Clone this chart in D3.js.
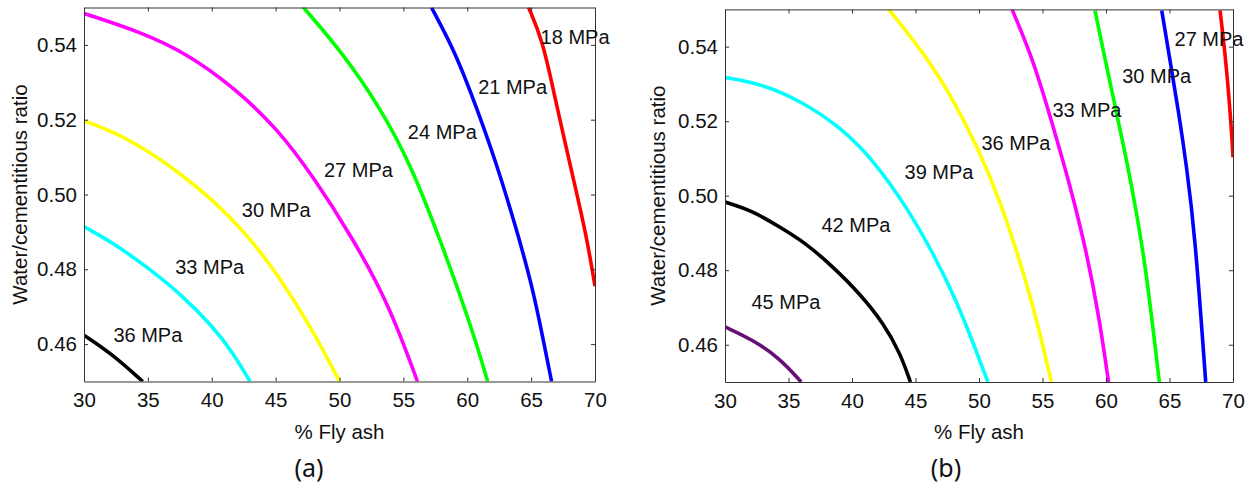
<!DOCTYPE html>
<html>
<head>
<meta charset="utf-8">
<script src="https://cdn.jsdelivr.net/npm/d3@7"></script>
<style>
  body { margin: 0; background: #fff; }
  svg text { font-family: "Liberation Sans", Arial, sans-serif; fill: #111; }
</style>
</head>
<body>
<svg id="chart" width="1254" height="486"></svg>
<script>
// axis values shared by both panels
const xTicks = [30, 35, 40, 45, 50, 55, 60, 65, 70];
const yTicks = [0.46, 0.48, 0.50, 0.52, 0.54];

// panel (a) contour lines, [% fly ash, w/c ratio]
const a36 = [[30, 0.4624], [32.3, 0.4571], [34.6, 0.45]];
const a33 = [[30, 0.4914], [32.3, 0.487], [34.9, 0.4807], [37.5, 0.4736], [40.1, 0.4647], [41.7, 0.4575], [43.0, 0.45]];
const a30 = [[30, 0.5197], [32.3, 0.5168], [34.9, 0.5119], [37.5, 0.5057], [40.1, 0.4985], [42.7, 0.4896], [45.3, 0.478], [47.9, 0.4638], [50.0, 0.45]];
const a27 = [[30, 0.5484], [34.4, 0.5435], [38.1, 0.5376], [41.7, 0.5287], [45.1, 0.5178], [48.0, 0.5045], [51.0, 0.4885], [53.9, 0.4705], [56.1, 0.45]];
const a24 = [[47.13, 0.5502], [50.26, 0.5378], [53.13, 0.5235], [55.6, 0.508], [58.2, 0.485], [60.4, 0.4638], [61.6, 0.45]];
const a21 = [[57.2, 0.55], [59.1, 0.5378], [60.7, 0.5235], [62.2, 0.5092], [63.8, 0.4914], [65.1, 0.4753], [65.9, 0.462], [66.6, 0.45]];
const a18 = [[64.8, 0.55], [65.9, 0.5413], [66.9, 0.5253], [68.2, 0.5057], [69.3, 0.4896], [70, 0.4755]];

// panel (b) contour lines
const b45 = [[30, 0.4648], [32.2, 0.4613], [34.3, 0.4564], [36.0, 0.45]];
const b42 = [[30, 0.4983], [32.2, 0.4959], [34.3, 0.4916], [36.4, 0.4872], [38.5, 0.4809], [40.6, 0.4738], [42.5, 0.4657], [43.8, 0.4577], [44.6, 0.45]];
const b39 = [[30, 0.5317], [32.8, 0.5301], [35.9, 0.5256], [39.1, 0.5184], [41.7, 0.5095], [44.3, 0.497], [46.4, 0.4845], [48.2, 0.472], [49.55, 0.4604], [50.7, 0.45]];
const b36 = [[42.9, 0.55], [45.9, 0.5372], [48.0, 0.5256], [50.0, 0.5122], [51.65, 0.4988], [53.2, 0.4827], [54.5, 0.4675], [55.7, 0.45]];
const b33 = [[52.6, 0.55], [54.3, 0.5363], [55.85, 0.5184], [57.2, 0.5024], [58.5, 0.4845], [59.5, 0.4666], [60.2, 0.45]];
const b30 = [[59.13, 0.5497], [60.06, 0.5345], [60.84, 0.522], [61.63, 0.5095], [62.42, 0.4952], [63.2, 0.4791], [64.2, 0.45]];
const b27 = [[64.39, 0.5497], [65.04, 0.5363], [65.7, 0.5229], [66.35, 0.5077], [67.0, 0.4899], [67.85, 0.45]];
const b24 = [[68.98, 0.5497], [69.5, 0.5345], [69.9, 0.5167], [70, 0.5103]];

// contour label anchors (data units)
const labelsA = [
    {text: "18 MPa", x: 68.44, y: 0.5422},
    {text: "21 MPa", x: 63.55, y: 0.5288},
    {text: "24 MPa", x: 58.05, y: 0.5168},
    {text: "27 MPa", x: 51.48, y: 0.5066},
    {text: "30 MPa", x: 45.05, y: 0.4959},
    {text: "33 MPa", x: 39.84, y: 0.4807},
    {text: "36 MPa", x: 35.0, y: 0.4624}
];
const labelsB = [
    {text: "27 MPa", x: 68.11, y: 0.5421},
    {text: "30 MPa", x: 63.99, y: 0.5323},
    {text: "33 MPa", x: 58.50, y: 0.5231},
    {text: "36 MPa", x: 52.91, y: 0.5142},
    {text: "39 MPa", x: 46.85, y: 0.5064},
    {text: "42 MPa", x: 40.31, y: 0.4921},
    {text: "45 MPa", x: 34.80, y: 0.4715}
];

const panels = [
    {
        id: "a", left: 84, right: 595, top: 7.5, bottom: 381.5,
        ylabelX: 20, tagX: 309,
        lines: [
            {pts: a36, color: "#000000"},
            {pts: a33, color: "#00ffff"},
            {pts: a30, color: "#ffff00"},
            {pts: a27, color: "#ff00ff"},
            {pts: a24, color: "#00ff00"},
            {pts: a21, color: "#0000ff"},
            {pts: a18, color: "#ff0000"}
        ],
        labels: labelsA
    },
    {
        id: "b", left: 725, right: 1233, top: 9.4, bottom: 382,
        ylabelX: 658, tagX: 946,
        lines: [
            {pts: b45, color: "#661077"},
            {pts: b42, color: "#000000"},
            {pts: b39, color: "#00ffff"},
            {pts: b36, color: "#ffff00"},
            {pts: b33, color: "#ff00ff"},
            {pts: b30, color: "#00ff00"},
            {pts: b27, color: "#0000ff"},
            {pts: b24, color: "#ff0000"}
        ],
        labels: labelsB
    }
];

const svg = d3.select("#chart");

panels.forEach(p => {
    const x = d3.scaleLinear().domain([30, 70]).range([p.left, p.right]);
    const y = d3.scaleLinear().domain([0.45, 0.55]).range([p.bottom, p.top]);

    // clip so lines stop at the frame
    svg.append("clipPath")
        .attr("id", "clip-" + p.id)
      .append("rect")
        .attr("x", p.left)
        .attr("y", p.top)
        .attr("width", p.right - p.left)
        .attr("height", p.bottom - p.top);

    const line = d3.line()
        .x(d => x(d[0]))
        .y(d => y(d[1]))
        .curve(d3.curveBasis);

    svg.append("g")
        .attr("clip-path", `url(#clip-${p.id})`)
      .selectAll("path")
      .data(p.lines)
      .enter()
      .append("path")
        .attr("d", d => line(d.pts))
        .attr("fill", "none")
        .attr("stroke", d => d.color)
        .attr("stroke-width", 3.6)
        .attr("stroke-linejoin", "round");

    // axes, ticks inward on all four sides
    const gx = svg.append("g")
        .attr("transform", `translate(0,${p.bottom})`)
        .call(d3.axisBottom(x).tickValues(xTicks).tickSize(-4).tickSizeOuter(0).tickPadding(11));
    const gy = svg.append("g")
        .attr("transform", `translate(${p.left},0)`)
        .call(d3.axisLeft(y).tickValues(yTicks).tickSize(-4).tickSizeOuter(0).tickPadding(7).tickFormat(d3.format(".2f")));
    const gt = svg.append("g")
        .attr("transform", `translate(0,${p.top})`)
        .call(d3.axisTop(x).tickValues(xTicks).tickSize(-4).tickSizeOuter(0).tickFormat(""));
    const gr = svg.append("g")
        .attr("transform", `translate(${p.right},0)`)
        .call(d3.axisRight(y).tickValues(yTicks).tickSize(-4).tickSizeOuter(0).tickFormat(""));

    [gx, gy, gt, gr].forEach(g => {
        g.selectAll(".domain").attr("stroke", "#333");
        g.selectAll(".tick line").attr("stroke", "#333");
        g.selectAll("text")
            .attr("font-family", "'Liberation Sans', Arial, sans-serif")
            .attr("font-size", 20.5)
            .attr("fill", "#111");
    });

    // contour labels
    svg.append("g")
      .selectAll("text")
      .data(p.labels)
      .enter()
      .append("text")
        .attr("x", d => x(d.x))
        .attr("y", d => y(d.y))
        .attr("dy", "0.36em")
        .attr("text-anchor", "middle")
        .attr("font-size", 20)
        .text(d => d.text);

    // axis titles
    svg.append("text")
        .attr("x", (p.left + p.right) / 2)
        .attr("y", 439)
        .attr("text-anchor", "middle")
        .attr("font-size", 20.5)
        .text("% Fly ash");

    svg.append("text")
        .attr("transform", `translate(${p.ylabelX},${(p.top + p.bottom) / 2}) rotate(-90)`)
        .attr("dy", "0.36em")
        .attr("text-anchor", "middle")
        .attr("font-size", 20.5)
        .text("Water/cementitious ratio");

    // panel tag
    svg.append("text")
        .attr("x", p.tagX)
        .attr("y", 477)
        .attr("text-anchor", "middle")
        .attr("font-size", 25)
        .style("font-family", "'Noto Sans', 'Open Sans', sans-serif")
        .text(`(${p.id})`);
});
</script>
</body>
</html>
